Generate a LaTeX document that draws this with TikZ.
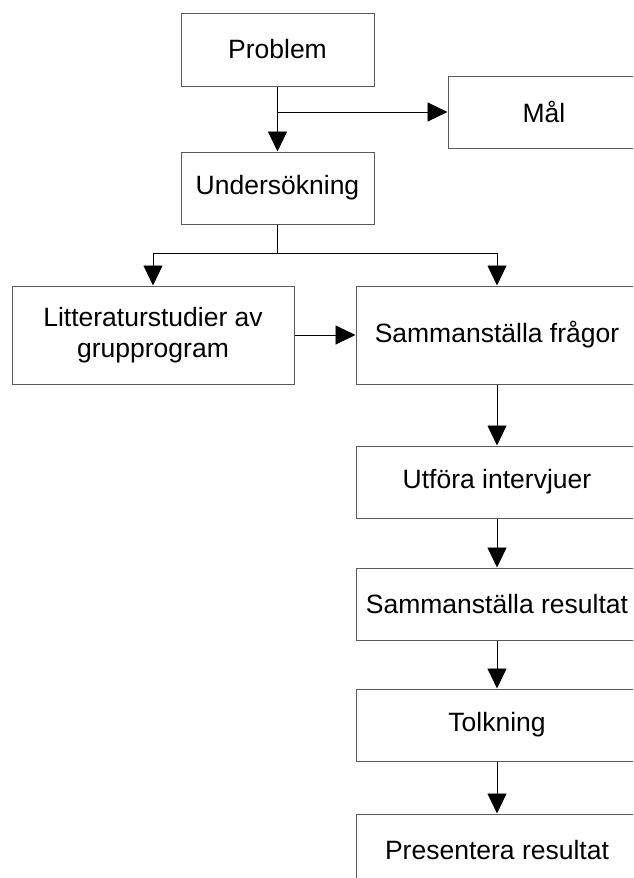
\documentclass[tikz,border=0pt]{standalone}
\usepackage{fontspec}
\setmainfont{Liberation Sans}
\usetikzlibrary{arrows.meta}
\begin{document}
\begin{tikzpicture}[x=1pt,y=-1pt,
  box/.style={draw=black!65,line width=1pt,rectangle,inner sep=0pt,align=center,
    font=\fontsize{26.5}{31}\selectfont,text=black},
  conn/.style={line width=0.9pt,draw=black,-{Triangle[length=20pt,width=19pt]}},
  plain/.style={line width=0.9pt,draw=black}]
\useasboundingbox (0,0) rectangle (633,878);
\clip (0,0) rectangle (633,878);
\fill[white] (0,0) rectangle (633,878);
\node[box,minimum width=193pt,minimum height=73pt] (prob) at (277.5,49.5) {Problem};
\node[box,minimum width=192pt,minimum height=72pt] (mal) at (544,112) {Mål};
\node[box,minimum width=193pt,minimum height=72pt] (und) at (277.5,188) {Undersökning};
\node[box,minimum width=282pt,minimum height=98pt] (litt) at (153,335) {Litteraturstudier av\\grupprogram};
\node[box,minimum width=282pt,minimum height=98pt] (sf) at (497,335) {Sammanställa frågor};
\node[box,minimum width=282pt,minimum height=72pt] (utf) at (497,482) {Utföra intervjuer};
\node[box,minimum width=282pt,minimum height=72pt] (sr) at (497,604) {Sammanställa resultat};
\node[box,minimum width=282pt,minimum height=72pt] (tolk) at (497,725) {Tolkning};
\node[box,minimum width=282pt,minimum height=72pt] (pres) at (497,850) {Presentera resultat};
\coordinate (j1) at (277.5,112);
\coordinate (j2) at (277.5,253);
\draw[conn] (prob.south) -- (und.north);
\draw[conn] (j1) -- (mal.west);
\draw[plain] (und.south) -- (j2);
\draw[conn] (j2) -| (litt.north);
\draw[conn] (j2) -| (sf.north);
\draw[conn] (litt.east) -- (sf.west);
\draw[conn] (sf.south) -- (utf.north);
\draw[conn] (utf.south) -- (sr.north);
\draw[conn] (sr.south) -- (tolk.north);
\draw[conn] (tolk.south) -- (pres.north);
\end{tikzpicture}
\end{document}
